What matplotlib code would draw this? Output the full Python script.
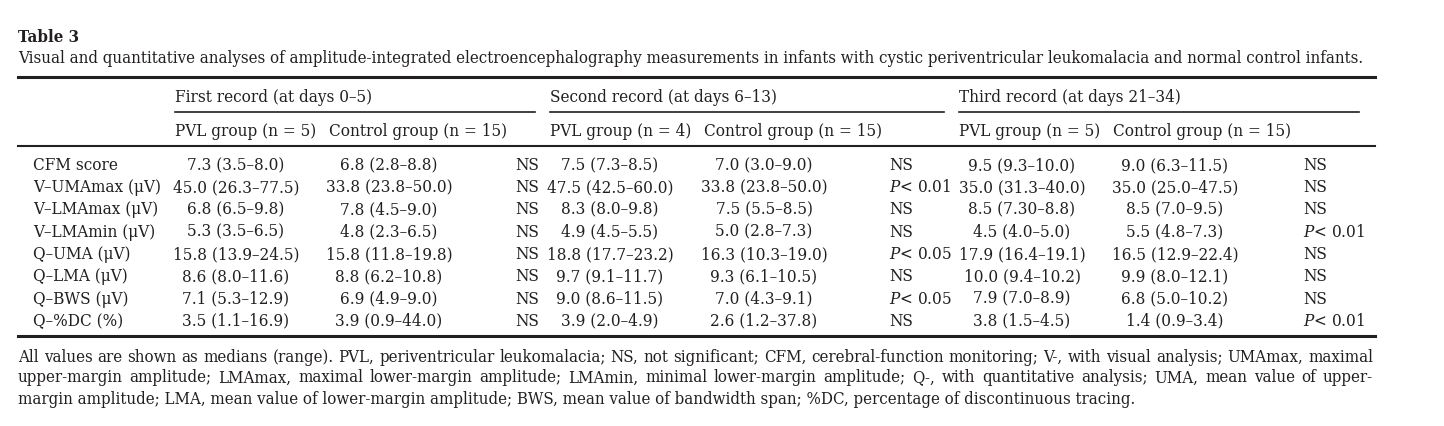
import matplotlib
matplotlib.use('Agg')
import matplotlib.pyplot as plt
from matplotlib import font_manager
from matplotlib.lines import Line2D

# pick a narrow serif face if one is installed
faces = {(f.name, f.stretch) for f in font_manager.fontManager.ttflist}
if ('DejaVu Serif', 'condensed') in faces or ('DejaVu Serif', 'semi-condensed') in faces:
    FAM, STRETCH = 'DejaVu Serif', 'condensed'
else:
    FAM, STRETCH = 'DejaVu Serif', 'normal'
plt.rcParams['font.family'] = FAM
plt.rcParams['font.stretch'] = STRETCH
plt.rcParams['mathtext.fontset'] = 'dejavuserif'

# ---- table data ----
title = 'Table 3'
caption = ('Visual and quantitative analyses of amplitude-integrated electroencephalography '
           'measurements in infants with cystic periventricular leukomalacia and normal control infants.')
records = ['First record (at days 0–5)', 'Second record (at days 6–13)', 'Third record (at days 21–34)']
pvl_n = [5, 4, 5]
ctrl_n = [15, 15, 15]
row_labels = ['CFM score', 'V–UMAmax (μV)', 'V–LMAmax (μV)', 'V–LMAmin (μV)',
              'Q–UMA (μV)', 'Q–LMA (μV)', 'Q–BWS (μV)', 'Q–%DC (%)']

first_pvl = ['7.3 (3.5–8.0)', '45.0 (26.3–77.5)', '6.8 (6.5–9.8)', '5.3 (3.5–6.5)',
             '15.8 (13.9–24.5)', '8.6 (8.0–11.6)', '7.1 (5.3–12.9)', '3.5 (1.1–16.9)']
first_ctrl = ['6.8 (2.8–8.8)', '33.8 (23.8–50.0)', '7.8 (4.5–9.0)', '4.8 (2.3–6.5)',
              '15.8 (11.8–19.8)', '8.8 (6.2–10.8)', '6.9 (4.9–9.0)', '3.9 (0.9–44.0)']
first_p = ['NS', 'NS', 'NS', 'NS', 'NS', 'NS', 'NS', 'NS']

second_pvl = ['7.5 (7.3–8.5)', '47.5 (42.5–60.0)', '8.3 (8.0–9.8)', '4.9 (4.5–5.5)',
              '18.8 (17.7–23.2)', '9.7 (9.1–11.7)', '9.0 (8.6–11.5)', '3.9 (2.0–4.9)']
second_ctrl = ['7.0 (3.0–9.0)', '33.8 (23.8–50.0)', '7.5 (5.5–8.5)', '5.0 (2.8–7.3)',
               '16.3 (10.3–19.0)', '9.3 (6.1–10.5)', '7.0 (4.3–9.1)', '2.6 (1.2–37.8)']
second_p = ['NS', 'P<0.01', 'NS', 'NS', 'P<0.05', 'NS', 'P<0.05', 'NS']

third_pvl = ['9.5 (9.3–10.0)', '35.0 (31.3–40.0)', '8.5 (7.30–8.8)', '4.5 (4.0–5.0)',
             '17.9 (16.4–19.1)', '10.0 (9.4–10.2)', '7.9 (7.0–8.9)', '3.8 (1.5–4.5)']
third_ctrl = ['9.0 (6.3–11.5)', '35.0 (25.0–47.5)', '8.5 (7.0–9.5)', '5.5 (4.8–7.3)',
              '16.5 (12.9–22.4)', '9.9 (8.0–12.1)', '6.8 (5.0–10.2)', '1.4 (0.9–3.4)']
third_p = ['NS', 'NS', 'NS', 'P<0.01', 'NS', 'NS', 'NS', 'P<0.01']

footnote = ['All values are shown as medians (range). PVL, periventricular leukomalacia; NS, not significant; '
            'CFM, cerebral-function monitoring; V-, with visual analysis; UMAmax, maximal',
            'upper-margin amplitude; LMAmax, maximal lower-margin amplitude; LMAmin, minimal lower-margin '
            'amplitude; Q-, with quantitative analysis; UMA, mean value of upper-',
            'margin amplitude; LMA, mean value of lower-margin amplitude; BWS, mean value of bandwidth span; '
            '%DC, percentage of discontinuous tracing.']

W, H = 1444, 427
INK = '#231f20'
fig = plt.figure(figsize=(W / 100, H / 100), dpi=100)
r = fig.canvas.get_renderer()


def px(x, y):
    return x / W, 1 - y / H


def put(x, y, s, size, ha='left', **kw):
    # y is the baseline, in pixels from the top
    return fig.text(*px(x, y), s, fontsize=size, ha=ha, va='baseline', color=INK, **kw)


def width_of(s, size, **kw):
    t = fig.text(0, 0, s, fontsize=size, **kw)
    w = t.get_window_extent(r).width
    t.remove()
    return w


def fit(s, target, **kw):
    return 10 * target / width_of(s, 10, **kw)


def hline(x0, x1, y, lw):
    fig.add_artist(Line2D([x0 / W, x1 / W], [1 - y / H, 1 - y / H], lw=lw, color=INK,
                          transform=fig.transFigure))


def justify(line, y, x0, x1, size):
    words = line.split(' ')
    ws = [width_of(w, size) for w in words]
    gap = (x1 - x0 - sum(ws)) / (len(words) - 1)
    x = x0
    for w, wd in zip(words, ws):
        put(x, y, w, size)
        x += wd + gap


def pval(s):
    return s.replace('P<', r'$P$< ')


# title and caption
cap_size = fit(caption, 1342)
put(18, 41.5, title, cap_size, fontweight='bold')
put(18, 63, caption, cap_size)

# table font size from a header width
tsize = fit(records[1], 227)

hline(18, 1375, 78, 2.2)
rec_x = [175, 550, 959]
ctrl_x = [329, 704, 1113]
rec_end = [535, 944, 1359]
for i in range(3):
    put(rec_x[i], 102.5, records[i], tsize)
    hline(rec_x[i], rec_end[i], 113, 1.2)
    put(rec_x[i], 136.5, f'PVL group (n = {pvl_n[i]})', tsize)
    put(ctrl_x[i], 136.5, f'Control group (n = {ctrl_n[i]})', tsize)
hline(18, 1375, 147, 1.5)

cols = [(first_pvl, 236, 'center'), (first_ctrl, 389, 'center'), (first_p, 515, 'left'),
        (second_pvl, 610, 'center'), (second_ctrl, 764, 'center'), (second_p, 889, 'left'),
        (third_pvl, 1022, 'center'), (third_ctrl, 1175, 'center'), (third_p, 1303, 'left')]
for j, lab in enumerate(row_labels):
    y = 170 + j * 22.25
    put(33, y, lab, tsize)
    for vals, x, ha in cols:
        put(x, y, pval(vals[j]), tsize, ha=ha)
hline(18, 1375, 337, 2.2)

# footnote
fn_size = min(fit(footnote[2], 1114), fit(footnote[0], 1345), fit(footnote[1], 1345))
justify(footnote[0], 361.5, 18, 1373, fn_size)
justify(footnote[1], 382.5, 18, 1373, fn_size)
put(18, 404, footnote[2], fn_size)

fig.savefig('out.png', dpi=100)
